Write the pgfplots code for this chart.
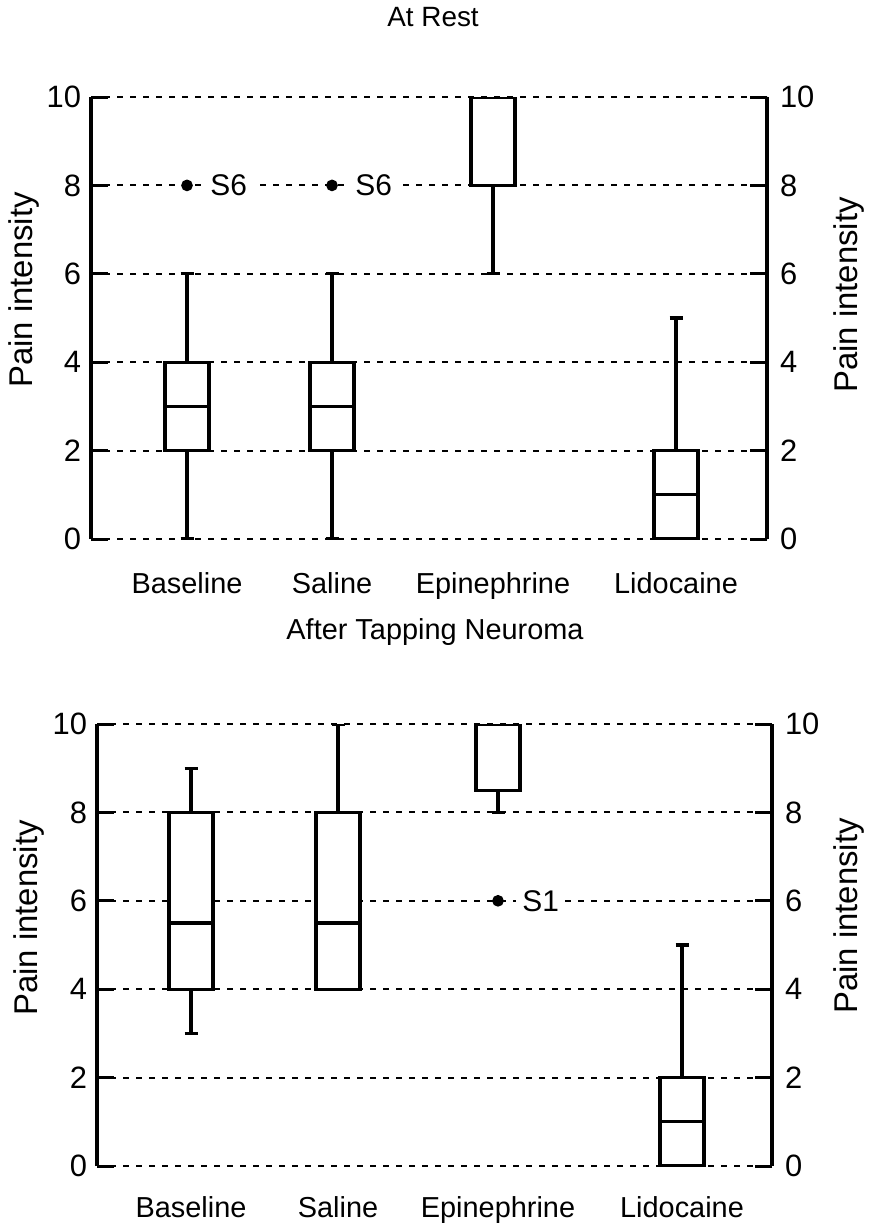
\documentclass[border=0pt]{standalone}
\usepackage{fontspec}
\setmainfont{Liberation Sans}
\usepackage{pgfplots}
\pgfplotsset{compat=1.18}
\usepgfplotslibrary{statistics}

\pgfplotsset{
  painaxis/.style={
    scale only axis,
    height=221bp,
    ymin=0, ymax=10,
    ytick={0,2,4,6,8,10},
    /pgf/number format/assume math mode=true,
    tick label style={font=\fontsize{15.5}{18}\selectfont, black},
    axis line style={line width=1.6bp, black},
    major tick length=8.5bp,
    tick style={line width=1.5bp, black},
  },
  painmain/.style={
    painaxis,
    separate axis lines,
    x axis line style={draw=none},
    xtick style={draw=none},
    ytick pos=both,
    yticklabel pos=left,
    tick align=inside,
    ymajorgrids,
    grid style={line width=1bp, black, dash pattern=on 3bp off 3.5bp},
    xticklabels={Baseline,Saline,Epinephrine,Lidocaine},
    xticklabel style={anchor=base, yshift=-27bp, font=\fontsize{14.5}{17}\selectfont},
    yticklabel style={xshift=-1.5bp},
    boxplot/draw direction=y,
  },
  painright/.style={
    painaxis,
    hide x axis,
    axis y line*=right,
    y axis line style={draw=none},
    ytick style={draw=none},
    yticklabel pos=right,
    yticklabel style={xshift=3bp},
  },
  bx/.style={draw=black, fill=white, line width=1.6bp, solid,
    mark=*, mark size=2.4bp, mark options={solid, fill=black, draw=black, line width=1bp}},
}
\tikzset{
  lab/.style={anchor=west, fill=white, inner sep=3bp,
    font=\fontsize{15}{17}\selectfont},
}

\begin{document}
\begin{tikzpicture}
\useasboundingbox (0,0) rectangle (435bp,-613.5bp);

% ---------------- Top panel: At Rest ----------------
\node[font=\fontsize{14}{17}\selectfont] at (216.5bp,-8.5bp) {At Rest};
\begin{axis}[painmain, at={(45.5bp,-269.5bp)}, anchor=south west,
  width=338bp, xmin=91, xmax=767, xtick={187,332,493,676}]
\addplot[bx, boxplot prepared={draw position=187, lower whisker=0, lower quartile=2,
  median=3, upper quartile=4, upper whisker=6, box extend=44, whisker extend=13}]
  table[row sep=\\, y index=0] {data\\ 8\\};
\addplot[bx, boxplot prepared={draw position=332, lower whisker=0, lower quartile=2,
  median=3, upper quartile=4, upper whisker=6, box extend=44, whisker extend=13}]
  table[row sep=\\, y index=0] {data\\ 8\\};
\addplot[bx, boxplot prepared={draw position=493, lower whisker=6, lower quartile=8,
  median=10, upper quartile=10, upper whisker=10, box extend=44, whisker extend=13}]
  coordinates {};
\addplot[bx, boxplot prepared={draw position=676, lower whisker=0, lower quartile=0,
  median=1, upper quartile=2, upper whisker=5, box extend=44, whisker extend=13}]
  coordinates {};
\node[lab] at (axis cs:204,8) {S6};
\node[lab] at (axis cs:349,8) {S6};
\end{axis}
\begin{axis}[painright, at={(45.5bp,-269.5bp)}, anchor=south west,
  width=338bp, xmin=91, xmax=767]
\addplot[draw=none] coordinates {(100,0)};
\end{axis}
\node[rotate=90, font=\fontsize{16.5}{19}\selectfont] at (12bp,-145bp) {Pain intensity};
\node[rotate=90, font=\fontsize{16.5}{19}\selectfont] at (424.5bp,-147.5bp) {Pain intensity};

% ---------------- Bottom panel: After Tapping Neuroma ----------------
\node[font=\fontsize{14.5}{17}\selectfont] at (217.5bp,-316bp) {After Tapping Neuroma};
\begin{axis}[painmain, at={(48.5bp,-583bp)}, anchor=south west,
  width=337.5bp, xmin=97, xmax=772, xtick={191,338,498,682},
  xticklabel style={yshift=1.5bp}]
\addplot[bx, boxplot prepared={draw position=191, lower whisker=3, lower quartile=4,
  median=5.5, upper quartile=8, upper whisker=9, box extend=44, whisker extend=13}]
  coordinates {};
\addplot[bx, boxplot prepared={draw position=338, lower whisker=4, lower quartile=4,
  median=5.5, upper quartile=8, upper whisker=10, box extend=44, whisker extend=13}]
  coordinates {};
\addplot[bx, boxplot prepared={draw position=498, lower whisker=8, lower quartile=8.5,
  median=10, upper quartile=10, upper whisker=10, box extend=44, whisker extend=13}]
  table[row sep=\\, y index=0] {data\\ 6\\};
\addplot[bx, boxplot prepared={draw position=682, lower whisker=0, lower quartile=0,
  median=1, upper quartile=2, upper whisker=5, box extend=44, whisker extend=13}]
  coordinates {};
\node[lab] at (axis cs:516,6) {S1};
\end{axis}
\begin{axis}[painright, at={(48.5bp,-583bp)}, anchor=south west,
  width=337.5bp, xmin=97, xmax=772]
\addplot[draw=none] coordinates {(100,0)};
\end{axis}
\node[rotate=90, font=\fontsize{16.5}{19}\selectfont] at (14.5bp,-459bp) {Pain intensity};
\node[rotate=90, font=\fontsize{16.5}{19}\selectfont] at (424.5bp,-458bp) {Pain intensity};
\end{tikzpicture}
\end{document}
